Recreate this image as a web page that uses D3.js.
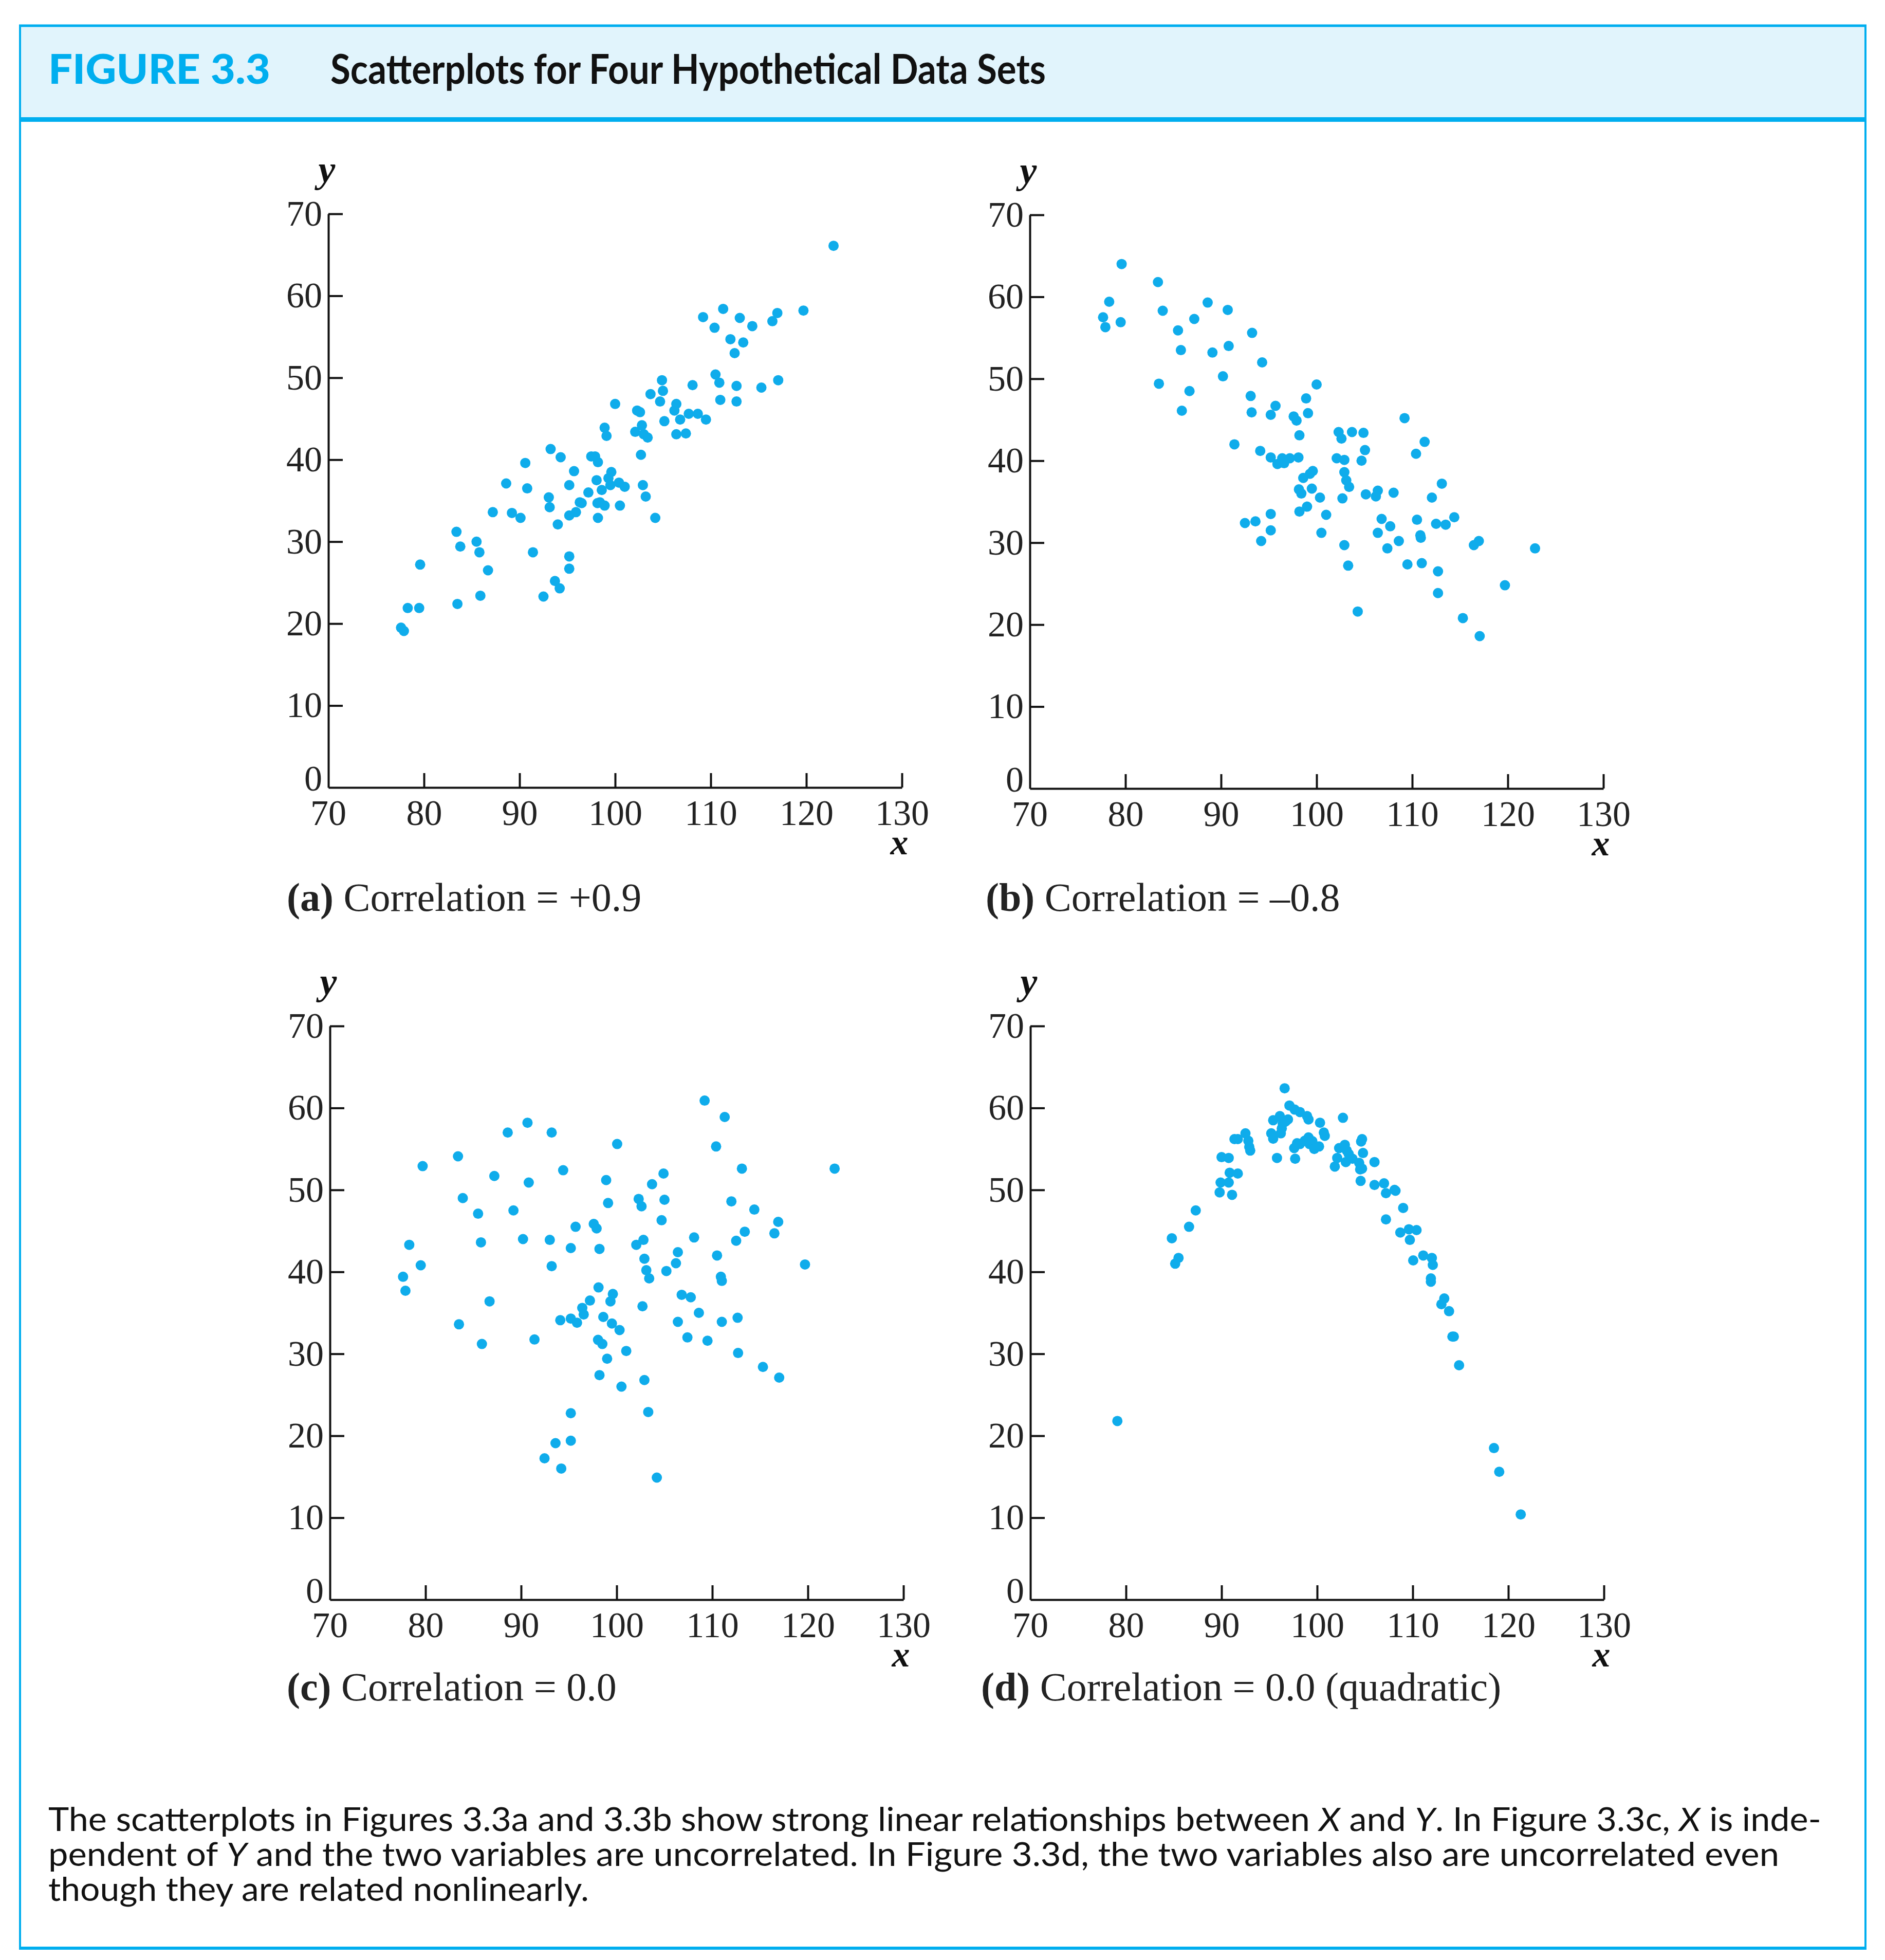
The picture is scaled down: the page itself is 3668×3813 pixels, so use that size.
<!DOCTYPE html>
<html><head><meta charset="utf-8">
<script src="https://cdn.jsdelivr.net/npm/d3@7"></script>
<style>html,body{margin:0;padding:0;background:#fff;}</style>
</head><body>
<script>
// ---------------- DATA ----------------
const figureLabel = "FIGURE 3.3";
const figureTitle = "Scatterplots for Four Hypothetical Data Sets";

const xTicks = [80, 90, 100, 110, 120, 130];
const yTicks = [0, 10, 20, 30, 40, 50, 60, 70];

// (a) Correlation = +0.9
const xA = [122.85,119.7,116.97,116.45,114.35,113.04,111.3,109.2,110.4,112.06,113.4,112.5,117.06,115.3,112.7,112.7,111.0,110.5,110.9,108.1,108.65,109.5,107.7,107.4,106.4,106.8,106.2,106.4,104.9,105.0,103.7,104.7,105.15,102.3,102.6,102.8,102.1,103.0,103.4,102.7,100.0,98.9,99.1,102.9,103.2,104.2,101.0,100.4,100.5,99.6,99.3,99.5,98.2,97.9,97.5,98.06,98.6,98.15,98.4,98.9,98.2,97.2,96.5,96.3,95.7,95.2,95.9,95.2,95.2,95.2,94.3,93.25,93.06,93.15,94.0,93.7,94.2,92.5,91.4,90.6,90.8,90.1,88.6,89.2,87.2,86.7,85.5,85.8,85.9,83.4,83.8,83.5,79.6,79.5,78.3,77.6,77.9];
const yA = [66.1,58.2,57.9,56.9,56.3,57.3,58.4,57.4,56.1,54.7,54.3,53.0,49.7,48.8,49.0,47.1,47.3,50.4,49.4,49.1,45.6,44.9,45.6,43.2,43.1,44.9,46.0,46.8,49.7,48.4,48.0,47.1,44.7,46.0,45.8,44.2,43.4,43.1,42.7,40.6,46.8,43.9,42.9,36.9,35.5,32.9,36.7,37.2,34.4,38.5,37.75,36.9,39.7,40.4,40.4,37.5,36.3,34.7,34.8,34.4,32.9,36.0,34.7,34.8,38.6,36.9,33.6,33.2,28.2,26.7,40.3,41.3,35.4,34.2,32.1,25.2,24.3,23.3,28.7,39.6,36.5,32.9,37.1,33.5,33.6,26.5,30.0,28.7,23.4,31.2,29.4,22.4,27.2,21.9,21.9,19.5,19.1];

// (b) Correlation = -0.8
const xB = [79.6,83.4,78.3,77.66,77.9,79.5,83.9,88.6,90.7,87.2,85.5,93.25,85.8,89.1,90.8,94.3,90.2,83.5,86.7,85.9,93.1,93.2,95.7,95.2,100.0,98.9,99.1,97.6,97.9,98.2,91.4,94.1,95.2,95.9,96.4,96.6,97.2,98.1,99.6,99.3,98.6,98.15,98.4,99.5,100.35,99.0,98.2,101.0,100.5,95.2,95.2,92.5,93.6,94.2,102.3,102.6,103.7,104.9,102.1,102.9,105.06,104.7,102.9,103.1,103.4,102.7,105.15,102.9,103.3,104.3,106.2,106.4,108.05,106.8,107.7,106.4,107.4,108.6,109.2,111.3,110.4,110.5,110.85,110.9,109.5,111.0,113.1,112.06,112.5,113.5,114.4,112.7,112.7,116.45,116.97,115.3,117.06,119.7,122.85];
const yB = [64.0,61.8,59.4,57.5,56.3,56.9,58.3,59.3,58.4,57.3,55.9,55.6,53.5,53.2,54.0,52.0,50.3,49.4,48.5,46.1,47.9,45.9,46.7,45.6,49.3,47.6,45.8,45.4,44.9,43.1,42.0,41.2,40.4,39.6,40.3,39.7,40.3,40.4,38.75,38.4,37.9,36.5,36.0,36.6,35.5,34.4,33.8,33.4,31.2,33.5,31.5,32.4,32.6,30.2,43.5,42.7,43.5,43.4,40.3,40.1,41.3,40.0,38.6,37.6,36.8,35.4,35.9,29.7,27.2,21.6,35.65,36.35,36.1,32.9,32.0,31.2,29.3,30.2,45.2,42.3,40.85,32.8,30.9,30.6,27.35,27.5,37.2,35.5,32.3,32.2,33.1,26.5,23.85,29.7,30.2,20.8,18.6,24.8,29.3];

// (c) Correlation = 0.0
const xC = [109.2,111.3,90.67,88.6,93.2,100.05,110.4,83.4,79.7,94.4,113.1,122.8,104.9,87.2,98.9,90.8,103.7,83.9,102.3,105.0,112.0,99.1,102.6,89.2,114.4,85.5,104.7,116.9,95.7,97.6,97.9,116.5,113.4,108.1,102.8,112.5,90.2,93.0,78.3,85.8,102.05,95.2,98.2,106.4,110.5,102.9,106.2,119.7,79.5,93.2,103.1,105.2,77.65,110.9,103.4,111.0,98.1,77.9,99.6,106.8,107.75,97.2,86.7,99.35,96.4,96.55,102.7,108.6,98.6,112.65,94.1,95.2,95.85,99.5,106.4,111.0,83.5,100.3,107.4,91.4,98.05,109.5,98.5,85.9,101.0,112.7,99.0,115.3,117.0,98.2,102.9,100.5,95.2,103.3,95.2,93.6,92.45,94.2,104.2];
const yC = [60.9,58.9,58.2,57.0,57.0,55.6,55.3,54.1,52.9,52.4,52.6,52.6,52.0,51.7,51.2,50.9,50.7,49.0,48.9,48.8,48.6,48.4,48.0,47.5,47.6,47.1,46.3,46.1,45.5,45.85,45.3,44.7,44.9,44.2,43.9,43.8,44.0,43.9,43.3,43.6,43.3,42.9,42.8,42.4,42.0,41.6,41.05,40.9,40.8,40.7,40.2,40.1,39.4,39.4,39.2,38.9,38.1,37.7,37.3,37.2,36.9,36.5,36.4,36.4,35.6,34.8,35.8,35.0,34.5,34.4,34.1,34.3,33.8,33.7,33.9,33.9,33.6,32.9,32.0,31.75,31.7,31.6,31.2,31.2,30.35,30.1,29.4,28.4,27.1,27.4,26.8,26.0,22.75,22.9,19.4,19.1,17.25,16.0,14.9];

// (d) Correlation = 0.0 (quadratic)
const xD = [79.1,84.8,85.5,85.15,86.6,87.3,89.8,89.9,90.0,90.75,90.85,90.75,91.1,91.7,91.35,91.7,92.5,92.8,92.9,93.0,95.2,95.4,95.4,95.8,96.1,96.2,96.3,96.6,96.4,96.7,96.95,97.1,97.65,97.6,97.7,97.9,98.2,98.2,98.7,98.95,99.1,99.1,99.2,99.5,99.7,100.2,100.3,100.7,100.8,102.7,101.85,102.1,102.3,102.9,103.1,103.0,103.3,103.7,104.4,104.5,104.6,104.7,104.8,104.7,104.55,106.0,106.0,107.0,107.2,107.2,108.1,108.2,109.0,108.7,109.6,109.7,110.4,110.05,111.1,112.0,112.1,111.9,111.9,113.0,113.3,113.8,114.15,114.3,114.85,118.5,119.05,121.3];
const yD = [21.8,44.1,41.7,41.0,45.5,47.5,49.7,50.9,54.0,53.9,52.1,50.9,49.4,52.0,56.2,56.2,56.9,56.0,55.25,54.8,56.9,58.5,56.25,53.9,59.0,56.9,57.5,62.4,58.1,58.35,58.6,60.3,59.8,55.1,53.8,55.7,59.5,55.6,56.0,59.0,58.6,56.4,55.6,55.95,55.0,55.3,58.2,57.0,56.6,58.8,52.85,53.9,55.1,55.5,54.8,53.4,54.4,53.8,53.3,52.5,55.9,56.2,54.5,52.6,51.1,53.4,50.6,50.8,49.6,46.4,50.0,49.9,47.8,44.8,45.2,43.9,45.1,41.4,42.0,41.7,40.85,39.2,38.8,36.05,36.75,35.2,32.1,32.1,28.6,18.5,15.6,10.4];

const panelLetters = ["(a)", "(b)", "(c)", "(d)"];
const panelCaptions = [" Correlation = +0.9", " Correlation = \u20130.8", " Correlation = 0.0", " Correlation = 0.0 (quadratic)"];

const bodyLines = [
  [["The scatterplots in Figures 3.3a and 3.3b show strong linear relationships between ", false], ["X", true], [" and ", false], ["Y", true], [". In Figure 3.3c, ", false], ["X", true], [" is inde-", false]],
  [["pendent of ", false], ["Y", true], [" and the two variables are uncorrelated. In Figure 3.3d, the two variables also are uncorrelated even", false]],
  [["though they are related nonlinearly.", false]]
];

// ---------------- LAYOUT ----------------
const W = 3668, H = 3813;
const CYAN = "#00AEEF", BAND = "#E1F4FC", DOT = "#0FACEB";
const SERIF = "'Liberation Serif', 'DejaVu Serif', serif";
const SANS = "Lato, 'Open Sans', sans-serif";
const PLOT = 1116;

const svg = d3.select("body").append("svg")
  .attr("width", W).attr("height", H).attr("viewBox", `0 0 ${W} ${H}`);

// frame
svg.append("rect").attr("x", 37).attr("y", 50).attr("width", 3595).attr("height", 181).attr("fill", BAND);
svg.append("line").attr("x1", 37).attr("x2", 3632).attr("y1", 50).attr("y2", 50).attr("stroke", CYAN).attr("stroke-width", 5);
svg.append("line").attr("x1", 37).attr("x2", 3632).attr("y1", 232.5).attr("y2", 232.5).attr("stroke", CYAN).attr("stroke-width", 9);
svg.append("line").attr("x1", 39).attr("x2", 39).attr("y1", 48).attr("y2", 3792).attr("stroke", CYAN).attr("stroke-width", 4);
svg.append("line").attr("x1", 3630).attr("x2", 3630).attr("y1", 48).attr("y2", 3792).attr("stroke", CYAN).attr("stroke-width", 4);
svg.append("line").attr("x1", 37).attr("x2", 3632).attr("y1", 3790).attr("y2", 3790).attr("stroke", CYAN).attr("stroke-width", 6);

svg.append("text").attr("x", 94).attr("y", 163).attr("font-family", SANS).attr("font-weight", 900)
  .attr("font-size", 80).attr("fill", CYAN).attr("textLength", 432).attr("lengthAdjust", "spacingAndGlyphs").text(figureLabel);
svg.append("text").attr("x", 643).attr("y", 163).attr("font-family", SANS).attr("font-weight", 700)
  .attr("font-size", 80).attr("fill", "#111").attr("textLength", 1392).attr("lengthAdjust", "spacingAndGlyphs").text(figureTitle);

const panels = [
  {xs: xA, ys: yA, left: 639, top: 416, capX: 558, capY: 1772},
  {xs: xB, ys: yB, left: 2004, top: 418, capX: 1918, capY: 1772},
  {xs: xC, ys: yC, left: 642, top: 1996, capX: 558, capY: 3308},
  {xs: xD, ys: yD, left: 2005, top: 1996, capX: 1909, capY: 3308}
];

panels.forEach((p, i) => {
  const g = svg.append("g").attr("transform", `translate(${p.left},${p.top})`);
  const x = d3.scaleLinear().domain([70, 130]).range([0, PLOT]);
  const y = d3.scaleLinear().domain([0, 70]).range([PLOT, 0]);

  const xAxis = g.append("g").attr("transform", `translate(0,${PLOT})`)
    .call(d3.axisBottom(x).tickValues(xTicks).tickSize(-28).tickSizeOuter(0).tickPadding(23));
  // label for 70 at origin
  xAxis.append("g").attr("class", "tick").attr("transform", `translate(${x(70)},0)`)
    .append("text").attr("y", 23).attr("dy", "0.71em").attr("text-anchor", "middle").text("70");
  const yAxis = g.append("g")
    .call(d3.axisLeft(y).tickValues(yTicks).tickSize(-28).tickSizeOuter(0).tickPadding(12));

  [xAxis, yAxis].forEach(ax => {
    ax.select(".domain").attr("stroke", "#111").attr("stroke-width", 4);
    ax.selectAll(".tick line").attr("stroke", "#111").attr("stroke-width", 4);
    ax.selectAll("text").attr("font-family", SERIF).attr("font-size", 70).attr("fill", "#222");
  });
  xAxis.selectAll("text").attr("fill", "#222").attr("font-size", 70).attr("font-family", SERIF);
  yAxis.selectAll(".tick").filter(d => d === 0).select("line").remove();
  yAxis.selectAll(".tick").filter(d => d === 0).select("text").attr("dy", "5px");

  // axis titles
  g.append("text").attr("x", -3).attr("y", -62).attr("text-anchor", "middle")
    .attr("font-family", SERIF).attr("font-weight", 700).attr("font-style", "italic")
    .attr("font-size", 74).attr("fill", "#111").text("y");
  g.append("text").attr("x", PLOT - 5).attr("y", PLOT + 130).attr("text-anchor", "middle")
    .attr("font-family", SERIF).attr("font-weight", 700).attr("font-style", "italic")
    .attr("font-size", 70).attr("fill", "#111").text("x");

  // points
  g.append("g").selectAll("circle").data(p.xs.map((v, k) => [v, p.ys[k]])).join("circle")
    .attr("cx", d => x(d[0])).attr("cy", d => y(d[1])).attr("r", 10).attr("fill", DOT);

  // caption
  const cap = svg.append("text").attr("x", p.capX).attr("y", p.capY)
    .attr("font-family", SERIF).attr("font-size", 78).attr("fill", "#222");
  cap.append("tspan").attr("font-weight", 700).text(panelLetters[i]);
  cap.append("tspan").text(panelCaptions[i]);
});

// body text
const bodyY = [3562, 3630, 3698];
const bodyW = [3450, 3368, 1052];
bodyLines.forEach((line, i) => {
  const t = svg.append("text").attr("x", 94).attr("y", bodyY[i])
    .attr("font-family", SANS).attr("font-size", 63).attr("fill", "#111")
    .attr("textLength", bodyW[i]).attr("lengthAdjust", "spacingAndGlyphs");
  line.forEach(([s, it]) => {
    const ts = t.append("tspan").text(s);
    if (it) ts.attr("font-style", "italic");
  });
});
</script>
</body></html>
